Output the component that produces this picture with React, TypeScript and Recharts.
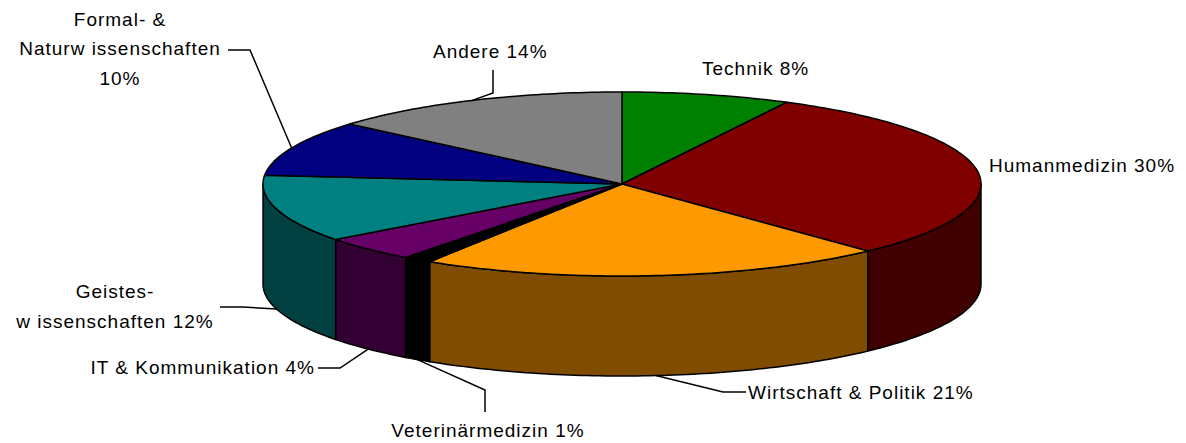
/** Studienrichtungen als 3D-Torte: flache Ellipse mit Seitenwand, Beschriftung mit Führungslinien. */

import { Pie, PieChart } from "recharts";

const SLICE_NAMES = [
  "Technik",
  "Humanmedizin",
  "Wirtschaft & Politik",
  "Veterinärmedizin",
  "IT & Kommunikation",
  "Geisteswissenschaften",
  "Formal- & Naturwissenschaften",
  "Andere",
];
// shares (labels show them rounded)
const SLICE_SHARES = [7.6, 30.4, 21.0, 1.3, 4.4, 11.8, 9.8, 13.7];
const LABEL_LINES = [
  ["Technik 8%"],
  ["Humanmedizin 30%"],
  ["Wirtschaft & Politik 21%"],
  ["Veterinärmedizin 1%"],
  ["IT & Kommunikation 4%"],
  ["Geistes-", "w issenschaften 12%"],
  ["Formal- &", "Naturw issenschaften", "10%"],
  ["Andere 14%"],
];

const TOP_COLORS = ["#008000", "#800000", "#ff9900", "#000000", "#660066", "#008080", "#000080", "#808080"];
const SIDE_COLORS = ["#004000", "#400000", "#804c00", "#000000", "#330033", "#004040", "#000040", "#404040"];

const W = 1186;
const H = 443;
const CX = 622;
const CY = 184;
const RX = 359;
const TILT = 92 / 359; // vertical squash of the disc
const DEPTH = 100;
const FONT = { fontFamily: "'Liberation Sans', Arial, sans-serif", fontSize: 19, letterSpacing: 1 };

// label placement (text anchor, baselines, leader elbows from text side)
type Spot = { x: number; y: number[]; anchor: "start" | "middle" | "end"; leader?: [number, number][] };
const LABEL_SPOTS: Spot[] = [
  { x: 702, y: [75], anchor: "start" },
  { x: 989, y: [172], anchor: "start" },
  { x: 748, y: [399], anchor: "start", leader: [[746, 392], [723, 392]] },
  { x: 488, y: [437], anchor: "middle", leader: [[485, 412], [485, 390]] },
  { x: 315, y: [374], anchor: "end", leader: [[318, 368], [340, 368]] },
  { x: 115, y: [298, 328], anchor: "middle", leader: [[220, 307], [243, 307]] },
  { x: 120, y: [26, 55, 85], anchor: "middle", leader: [[228, 50], [250, 50]] },
  { x: 433, y: [58], anchor: "start", leader: [[493, 70], [493, 93]] },
];

const data = SLICE_NAMES.map((name, i) => ({ name, value: SLICE_SHARES[i] }));

type SliceProps = {
  cx: number;
  cy: number;
  outerRadius: number;
  startAngle: number;
  endAngle: number;
  midAngle: number;
  index: number;
};

function rim(p: SliceProps, deg: number, drop = 0): [number, number] {
  const r = (deg * Math.PI) / 180;
  return [p.cx + p.outerRadius * Math.cos(r), p.cy - p.outerRadius * TILT * Math.sin(r) + drop];
}

function arc(p: SliceProps, from: number, to: number, drop = 0) {
  const n = Math.max(2, Math.ceil(Math.abs(to - from)) + 1);
  const pts: [number, number][] = [];
  for (let k = 0; k < n; k++) pts.push(rim(p, from + ((to - from) * k) / (n - 1), drop));
  return pts;
}

const toPath = (pts: [number, number][]) =>
  pts.map(([x, y], k) => `${k ? "L" : "M"}${x.toFixed(2)},${y.toFixed(2)}`).join(" ") + " Z";

function renderWall(p: SliceProps) {
  const lo = Math.max(p.endAngle, -180);
  const hi = Math.min(p.startAngle, 0);
  if (hi <= lo) return <g />;
  const pts = [...arc(p, lo, hi), ...arc(p, hi, lo, DEPTH)];
  return (
    <path d={toPath(pts)} fill={SIDE_COLORS[p.index]} stroke="#000" strokeWidth={1.5} strokeLinejoin="round" />
  );
}

function renderTop(p: SliceProps) {
  const pts: [number, number][] = [[p.cx, p.cy], ...arc(p, p.startAngle, p.endAngle)];
  return (
    <path d={toPath(pts)} fill={TOP_COLORS[p.index]} stroke="#000" strokeWidth={1.5} strokeLinejoin="round" />
  );
}

function renderLabel(p: SliceProps) {
  const spot = LABEL_SPOTS[p.index];
  const lower = Math.sin((p.midAngle * Math.PI) / 180) < 0;
  const edge = rim(p, p.midAngle, lower ? DEPTH : 0);
  const leader = spot.leader ? [...spot.leader, edge] : null;
  return (
    <g>
      {leader && (
        <polyline
          points={leader.map(([x, y]) => `${x},${y}`).join(" ")}
          fill="none"
          stroke="#000"
          strokeWidth={1.5}
        />
      )}
      <text textAnchor={spot.anchor} fill="#000" style={FONT}>
        {LABEL_LINES[p.index].map((line, k) => (
          <tspan key={k} x={spot.x} y={spot.y[k]}>
            {line}
          </tspan>
        ))}
      </text>
    </g>
  );
}

export default function App() {
  const common = {
    data,
    dataKey: "value",
    nameKey: "name",
    cx: CX,
    cy: CY,
    innerRadius: 0,
    outerRadius: RX,
    startAngle: 90,
    endAngle: -270,
    fill: "none",
    stroke: "none",
    labelLine: false,
    isAnimationActive: false,
  } as const;
  return (
    <div style={{ position: "absolute", left: 0, top: 0, width: W, height: H, background: "#fff" }}>
      <PieChart width={W} height={H} margin={{ top: 0, right: 0, bottom: 0, left: 0 }}>
        {/* walls first, then top faces, then labels on top */}
        <Pie {...common} label={renderWall as any} />
        <Pie {...common} label={renderTop as any} />
        <Pie {...common} label={renderLabel as any} />
      </PieChart>
    </div>
  );
}
